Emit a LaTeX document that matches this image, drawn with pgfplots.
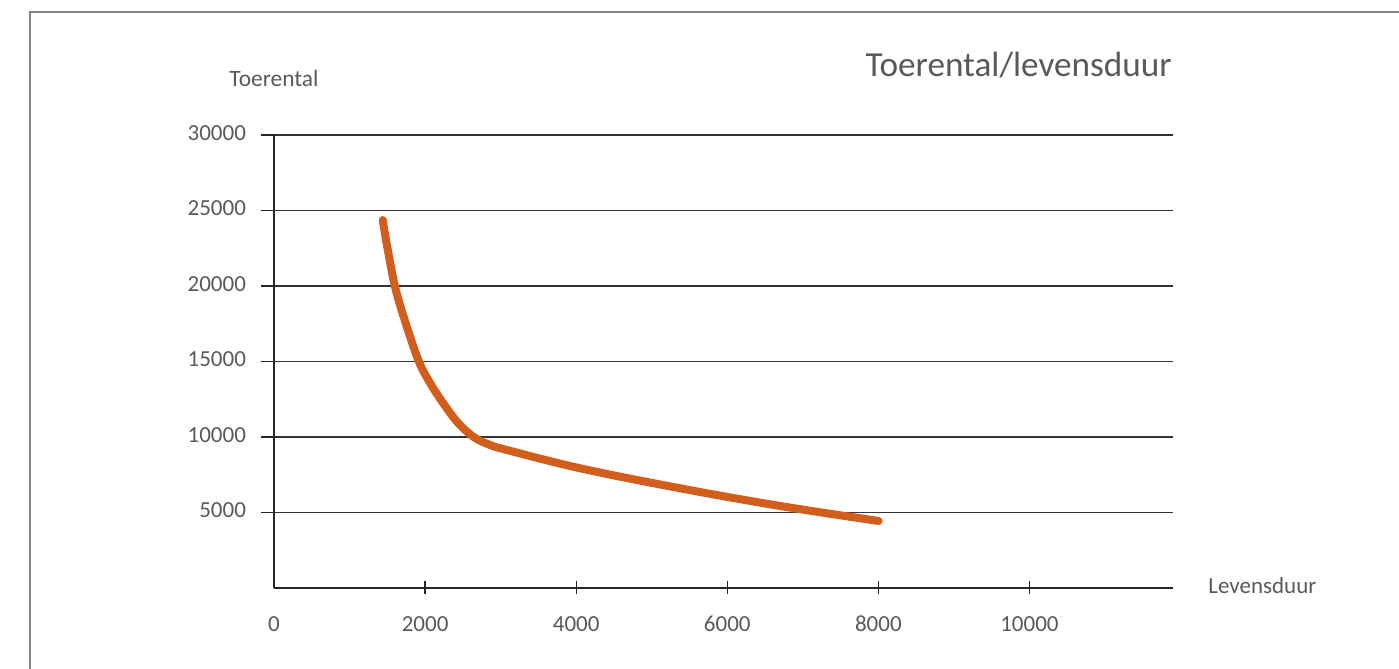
\documentclass[border=0pt]{standalone}
\usepackage{pgfplots}
\pgfplotsset{compat=1.18}
\usepackage{fontspec}
\setmainfont{Carlito}
\definecolor{txt}{RGB}{89,89,89}
\definecolor{curve}{RGB}{210,94,30}
\definecolor{frame}{RGB}{134,134,134}
\begin{document}
\begin{tikzpicture}
\begin{axis}[
  at={(0,0)}, anchor=south west,
  scale only axis,
  width=449.5pt, height=226.5pt,
  xmin=0, xmax=11900, ymin=0, ymax=30000,
  axis x line=bottom, axis y line=left,
  axis line style={-, black!85, line width=0.6pt},
  xtick={2000,4000,...,10000},
  extra x ticks={0},
  extra x tick style={tick style={draw=none}},
  ytick={5000,10000,...,30000},
  scaled ticks=false,
  xtick align=center,
  ytick align=outside,
  major tick length=6.5pt,
  x tick style={black!85, line width=0.6pt},
  y tick style={black!85, line width=0.6pt},
  ymajorgrids,
  major grid style={black!80, line width=0.55pt},
  /pgf/number format/1000 sep={},
  /pgf/number format/assume math mode=true,
  typeset ticklabels with strut,
  ticklabel style={font=\fontsize{11.5}{13}\selectfont, text=txt},
  xticklabel style={yshift=-6pt},
  yticklabel style={xshift=-4pt},
  clip=false,
]
\addplot[curve, line width=4pt, line cap=round, smooth, tension=0.6] table {
x y
1440 24370
1483 23050
1600 20000
1744 17530
1918 15000
2066 13580
2238 12250
2437 10930
2649 9980
2861 9470
3082 9140
4053 7928
5377 6602
6702 5430
8004 4437
};
\end{axis}
\draw[frame, line width=0.8pt] (-122pt,-45pt) -- (-122pt,288pt) -- (570pt,288pt);
\node[text=txt, inner sep=0pt, font=\fontsize{11.7}{13}\selectfont] at (0pt,255pt) {Toerental};
\node[text=txt, inner sep=0pt, font=\fontsize{11.5}{13}\selectfont, anchor=west] at (467pt,1pt) {Levensduur};
\node[text=txt, inner sep=0pt, font=\fontsize{17.6}{21}\selectfont, anchor=east] at (449pt,261.5pt) {Toerental/levensduur};
\pgfresetboundingbox
\path (-137pt,-40.5pt) rectangle (562.5pt,294pt);
\end{tikzpicture}
\end{document}
